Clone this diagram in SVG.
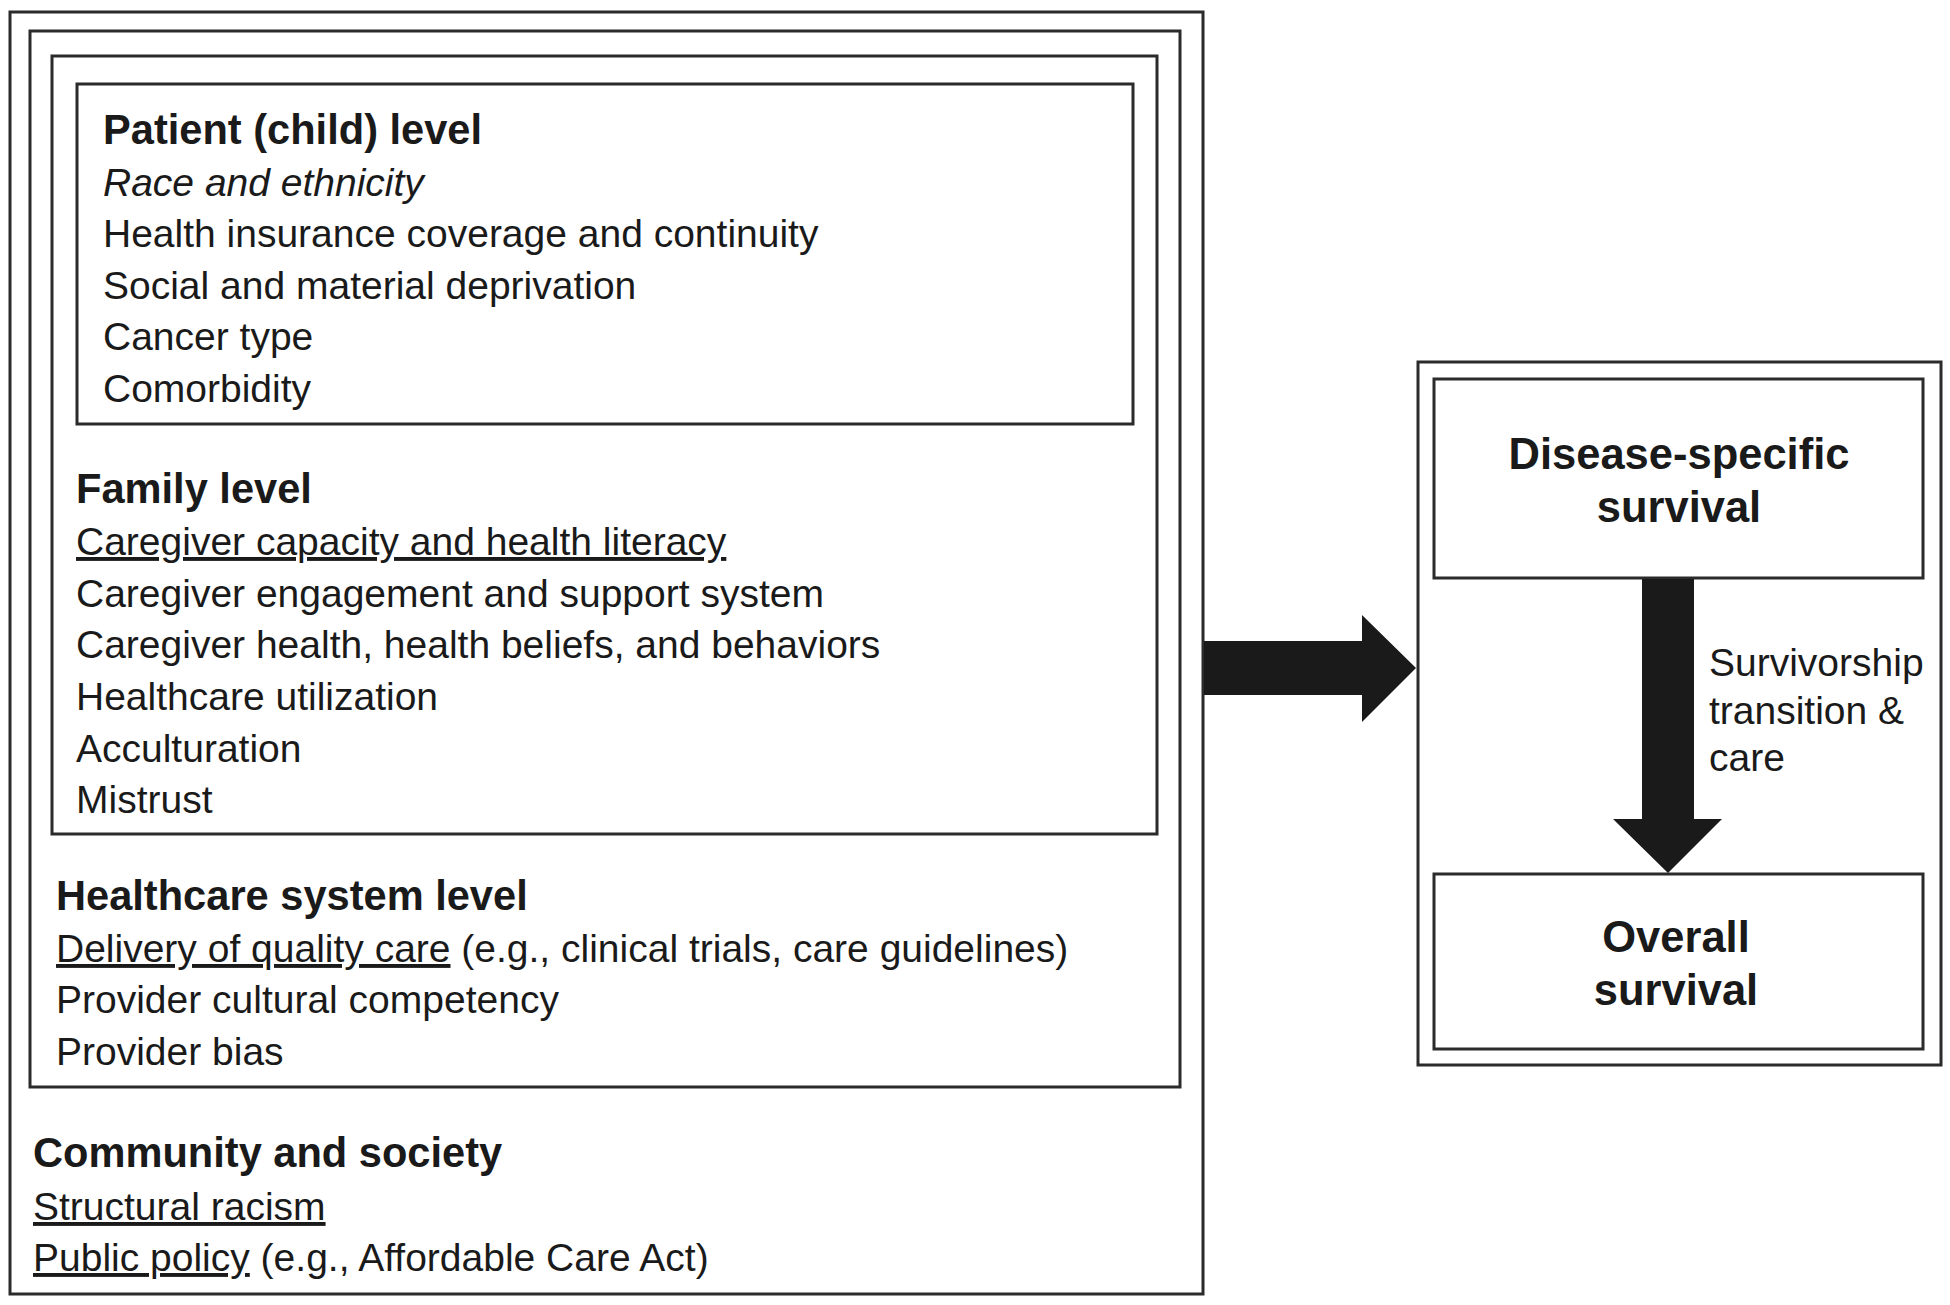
<svg xmlns="http://www.w3.org/2000/svg" width="1950" height="1305" viewBox="0 0 1950 1305">
<style>
.box{fill:none;stroke:#2b2b2b;stroke-width:3}
.t{font-family:"Liberation Sans",Arial,sans-serif;font-size:39px;fill:#1a1a1a}
.h{font-family:"Liberation Sans",Arial,sans-serif;font-size:41.6px;font-weight:bold;fill:#1a1a1a}
.b{font-family:"Liberation Sans",Arial,sans-serif;font-size:43.5px;font-weight:bold;fill:#1a1a1a;text-anchor:middle}
.u{text-decoration:underline}
.arrow{fill:#1a1a1a}
</style>
<rect width="1950" height="1305" fill="#ffffff"/>
<g id="community">
<rect class="box" x="10" y="12" width="1193" height="1282"/>
<text class="h" x="33" y="1167">Community and society</text>
<text class="t" x="33" y="1220"><tspan class="u">Structural racism</tspan></text>
<text class="t" x="33" y="1271"><tspan class="u">Public policy</tspan> (e.g., Affordable Care Act)</text>
</g>
<g id="healthcare">
<rect class="box" x="30" y="31" width="1150" height="1056"/>
<text class="h" x="56" y="910">Healthcare system level</text>
<text class="t" x="56" y="962"><tspan class="u">Delivery of quality care</tspan> (e.g., clinical trials, care guidelines)</text>
<text class="t" x="56" y="1013">Provider cultural competency</text>
<text class="t" x="56" y="1065">Provider bias</text>
</g>
<g id="family">
<rect class="box" x="52" y="56" width="1105" height="778"/>
<text class="h" x="76" y="503">Family level</text>
<text class="t" x="76" y="555"><tspan class="u">Caregiver capacity and health literacy</tspan></text>
<text class="t" x="76" y="607">Caregiver engagement and support system</text>
<text class="t" x="76" y="658">Caregiver health, health beliefs, and behaviors</text>
<text class="t" x="76" y="710">Healthcare utilization</text>
<text class="t" x="76" y="762">Acculturation</text>
<text class="t" x="76" y="813">Mistrust</text>
</g>
<g id="patient">
<rect class="box" x="77" y="84" width="1056" height="340"/>
<text class="h" x="103" y="144">Patient (child) level</text>
<text class="t" x="103" y="196" font-style="italic">Race and ethnicity</text>
<text class="t" x="103" y="247">Health insurance coverage and continuity</text>
<text class="t" x="103" y="299">Social and material deprivation</text>
<text class="t" x="103" y="350">Cancer type</text>
<text class="t" x="103" y="402">Comorbidity</text>
</g>
<g id="outcomes">
<rect class="box" x="1418" y="362" width="523" height="703"/>
</g>
<g id="disease-specific">
<rect class="box" x="1434" y="379" width="489" height="199"/>
<text class="b" x="1679" y="469">Disease-specific</text>
<text class="b" x="1679" y="522">survival</text>
</g>
<g id="overall">
<rect class="box" x="1434" y="874" width="489" height="175"/>
<text class="b" x="1676" y="952">Overall</text>
<text class="b" x="1676" y="1005">survival</text>
</g>
<g id="connectors">
<polygon class="arrow" points="1204,641 1362,641 1362,615 1416,668 1362,722 1362,695 1204,695"/>
<polygon class="arrow" points="1642,579 1694,579 1694,819 1722,819 1668,873 1613,819 1642,819"/>
<text class="t" x="1709" y="676">Survivorship</text>
<text class="t" x="1709" y="724">transition &amp;</text>
<text class="t" x="1709" y="771">care</text>
</g>
</svg>
